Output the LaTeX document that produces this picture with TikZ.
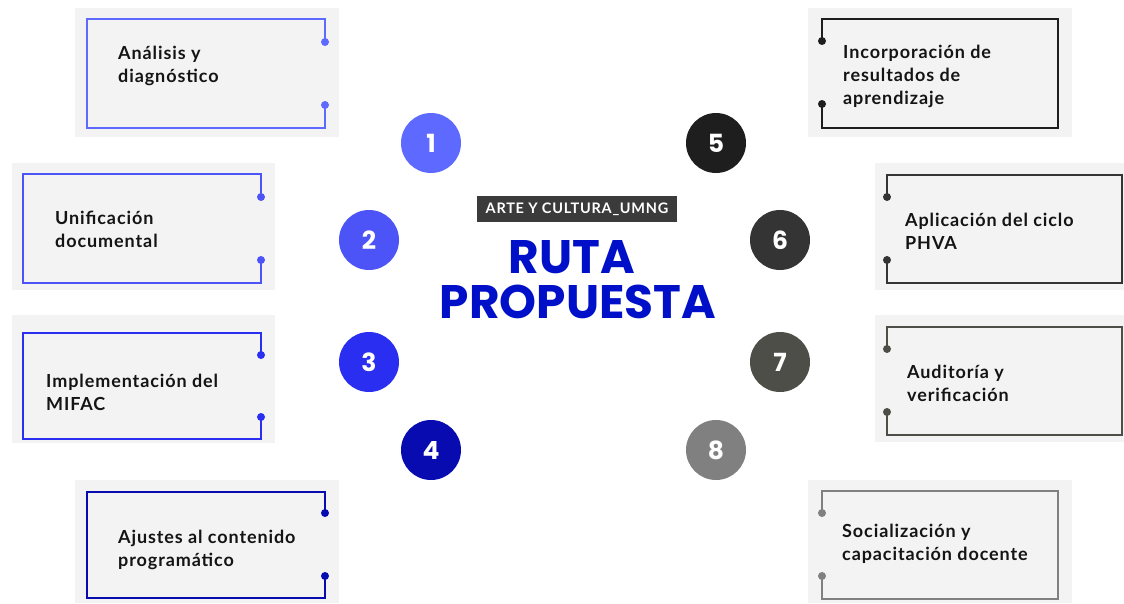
\documentclass[tikz,border=0pt]{standalone}
\usepackage{fontspec}
\setmainfont{Lato}
\newfontfamily\cardfont{Lato}[LetterSpace=5.0]
\newfontfamily\titlefont{Poppins}
\usepackage{tikz}
\usetikzlibrary{positioning}

\definecolor{blueA}{RGB}{94,106,255}
\definecolor{blueB}{RGB}{76,84,248}
\definecolor{blueC}{RGB}{42,46,240}
\definecolor{blueD}{RGB}{8,12,176}
\definecolor{greyA}{RGB}{30,30,30}
\definecolor{greyB}{RGB}{52,52,52}
\definecolor{greyC}{RGB}{78,78,72}
\definecolor{greyD}{RGB}{128,128,128}
\definecolor{cardgrey}{RGB}{243,243,243}
\definecolor{titleblue}{RGB}{0,16,200}

\begin{document}
\begin{tikzpicture}[
    x=1pt, y=-1pt,
    card/.style={fill=cardgrey},
    frame/.style={line width=1.8pt},
    cardtext/.style={anchor=west, align=left, text=black!92, inner sep=0pt, font=\cardfont\fontsize{18}{23}\selectfont\bfseries},
    num/.style={circle, minimum size=60pt, inner sep=0pt, text=white, font=\titlefont\fontsize{25}{25}\selectfont\bfseries},
    title/.style={anchor=base, text=titleblue, inner sep=0pt, font=\titlefont\fontsize{47}{47}\selectfont\bfseries},
    tag/.style={fill=black!77, text=white, minimum width=200pt, minimum height=26pt, inner sep=0pt, font=\cardfont\fontsize{14.5}{14.5}\selectfont\bfseries}
]
    \useasboundingbox (0,0) rectangle (1124,603);

    % Left cards
    \fill[card] (75,8) rectangle (339,137);
    \draw[frame, blueA] (325,42) -- (325,19) -| (87,128) -| (325,105);
    \fill[blueA] (325,42) circle (4pt) (325,105) circle (4pt);
    \node[cardtext] (analisis) at (118,66) {Análisis y\\diagnóstico};

    \fill[card] (12,163) rectangle (275,290);
    \draw[frame, blueB] (261,197) -- (261,174) -| (23,283) -| (261,260);
    \fill[blueB] (261,197) circle (4pt) (261,260) circle (4pt);
    \node[cardtext] (unificacion) at (55,229) {Unificación\\documental};

    \fill[card] (12,315) rectangle (275,443);
    \draw[frame, blueC] (261,355) -- (261,333) -| (23,439) -| (261,417);
    \fill[blueC] (261,355) circle (4pt) (261,417) circle (4pt);
    \node[cardtext] (implementacion) at (46,392) {Implementación del\\MIFAC};

    \fill[card] (75,480) rectangle (339,603);
    \draw[frame, blueD] (325,513) -- (325,492) -| (87,598) -| (325,576);
    \fill[blueD] (325,513) circle (4pt) (325,576) circle (4pt);
    \node[cardtext] (ajustes) at (118,550) {Ajustes al contenido\\programático};

    % Right cards
    \fill[card] (808,8) rectangle (1072,137);
    \draw[frame, greyA] (822,41) -- (822,19) -| (1058,128) -| (822,104);
    \fill[greyA] (822,41) circle (4pt) (822,104) circle (4pt);
    \node[cardtext] (incorporacion) at (843,76) {Incorporación de\\resultados de\\aprendizaje};

    \fill[card] (875,163) rectangle (1124,290);
    \draw[frame, greyB] (887,197) -- (887,175) -| (1122,283) -| (887,260);
    \fill[greyB] (887,197) circle (4pt) (887,260) circle (4pt);
    \node[cardtext] (aplicacion) at (905,231) {Aplicación del ciclo\\PHVA};

    \fill[card] (875,315) rectangle (1124,442);
    \draw[frame, greyC] (887,349) -- (887,327) -| (1122,435) -| (887,412);
    \fill[greyC] (887,349) circle (4pt) (887,412) circle (4pt);
    \node[cardtext] (auditoria) at (907,383) {Auditoría y\\verificación};

    \fill[card] (808,480) rectangle (1072,603);
    \draw[frame, greyD] (822,513) -- (822,491) -| (1058,599) -| (822,576);
    \fill[greyD] (822,513) circle (4pt) (822,576) circle (4pt);
    \node[cardtext] (socializacion) at (842,544) {Socialización y\\capacitación docente};

    % Numbers
    \node[num, fill=blueA] (n1) at (431,143) {1};
    \node[num, fill=blueB] (n2) at (369,240) {2};
    \node[num, fill=blueC] (n3) at (369,362) {3};
    \node[num, fill=blueD] (n4) at (431,450) {4};
    \node[num, fill=greyA] (n5) at (716,143) {5};
    \node[num, fill=greyB] (n6) at (780,240) {6};
    \node[num, fill=greyC] (n7) at (780,362) {7};
    \node[num, fill=greyD] (n8) at (716,450) {8};

    % Title
    \node[tag] (tag) at (577,209) {ARTE Y CULTURA\_UMNG};
    \node[title] (ruta) at (572,273) {RUTA};
    \node[title] (propuesta) at (578,318) {PROPUESTA};
\end{tikzpicture}
\end{document}
